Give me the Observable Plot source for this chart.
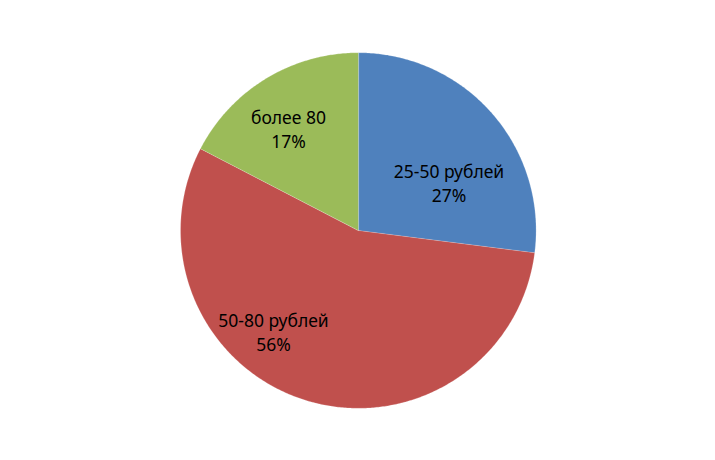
<!DOCTYPE html>
<html>
<head>
<meta charset="utf-8">
<script src="https://cdn.jsdelivr.net/npm/d3@7"></script>
<script src="https://cdn.jsdelivr.net/npm/@observablehq/plot@0.6"></script>
<style>
  html, body { margin: 0; padding: 0; background: #ffffff; }
  #chart { width: 715px; height: 460px; }
</style>
</head>
<body>
<div id="chart"></div>
<script>
// Data
const categories = ["25-50 рублей", "50-80 рублей", "более 80"];
const shares = [27.0, 55.6, 17.4];
const percentLabels = ["27%", "56%", "17%"];

// Styling / layout (not data)
const colors = ["#4F81BD", "#C0504D", "#9BBB59"];
const W = 715, H = 460;
const cx = 357.8, cy = 230, R = 177.8;
// label placement in polar form (angle clockwise from 12 o'clock, fraction of radius),
// emulating the spreadsheet's "best fit" label layout
const labelAngleDeg = [62.1, 220.0, 325.6];
const labelRadiusFrac = [0.577, 0.742, 0.695];

const total = d3.sum(shares);
let acc = 0;
const slicePts = [];
const labels = [];
categories.forEach((c, i) => {
  const a0 = acc / total * 2 * Math.PI;
  acc += shares[i];
  const a1 = acc / total * 2 * Math.PI;
  slicePts.push({name: c, x: 0, y: 0});
  const n = Math.max(2, Math.ceil((a1 - a0) / (Math.PI / 360)));
  for (let k = 0; k <= n; k++) {
    const a = a0 + (a1 - a0) * k / n;
    slicePts.push({name: c, x: R * Math.sin(a), y: -R * Math.cos(a)});
  }
  const la = labelAngleDeg[i] * Math.PI / 180;
  const lr = labelRadiusFrac[i] * R;
  labels.push({name: c, text: c + "\n" + percentLabels[i], x: lr * Math.sin(la), y: -lr * Math.cos(la)});
});

const chart = Plot.plot({
  width: W,
  height: H,
  margin: 0,
  style: {background: "#ffffff", overflow: "visible"},
  x: {domain: [-cx, W - cx], range: [0, W], axis: null},
  y: {domain: [-cy, H - cy], range: [0, H], axis: null},
  color: {domain: categories, range: colors},
  marks: [
    Plot.line(slicePts, {
      x: "x", y: "y", z: "name", fill: "name",
      curve: "linear-closed",
      stroke: "#ffffff", strokeWidth: 0.6, strokeOpacity: 0.35
    }),
    Plot.text(labels, {
      x: "x", y: "y", text: "text",
      fontFamily: "'Noto Sans', 'Open Sans', sans-serif",
      fontSize: 17.5,
      lineHeight: 1.38,
      fill: "#000000",
      textAnchor: "middle"
    })
  ]
});
document.getElementById("chart").appendChild(chart);
</script>
</body>
</html>
